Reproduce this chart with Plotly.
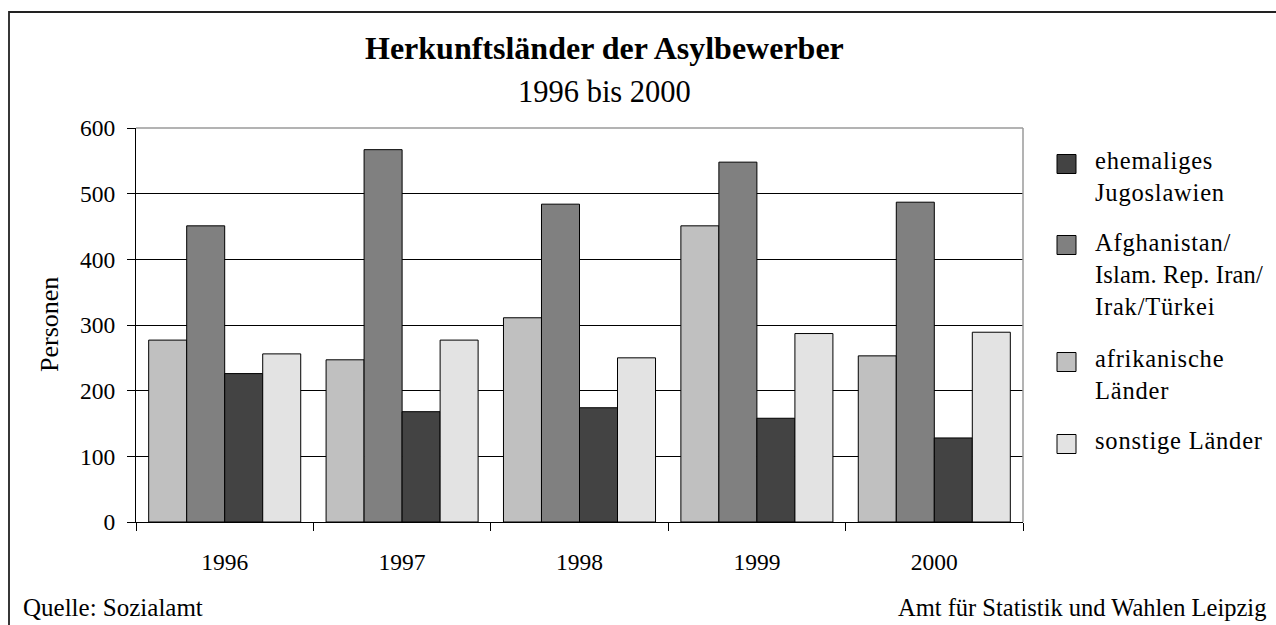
import plotly.graph_objects as go

years = ["1996", "1997", "1998", "1999", "2000"]
afrika = [277, 247, 311, 451, 253]
afghan = [451, 567, 484, 548, 487]
jugo = [226, 168, 174, 158, 128]
sonst = [256, 277, 250, 287, 289]

names = {
    "jugo": "ehemaliges<br>Jugoslawien",
    "afghan": "Afghanistan/<br>Islam. Rep. Iran/<br>Irak/Türkei",
    "afrika": "afrikanische<br>Länder",
    "sonst": "sonstige Länder",
}
colors = {"afrika": "#C0C0C0", "afghan": "#808080", "jugo": "#434343", "sonst": "#E3E3E3"}
y_ticks = [0, 100, 200, 300, 400, 500, 600]

W, H = 1276, 625
L, R, T, B = 136, 1023, 128, 522
PW, PH = R - L, B - T


def px(x):
    return (x - L) / PW


def py(y):
    return (B - y) / PH


FONT = "Liberation Serif, Times New Roman, serif"

fig = go.Figure()
for key, vals in [("afrika", afrika), ("afghan", afghan), ("jugo", jugo), ("sonst", sonst)]:
    fig.add_trace(go.Bar(
        x=years, y=vals, name=names[key].replace("<br>", " "),
        marker=dict(color=colors[key], line=dict(color="black", width=1)),
        showlegend=False,
    ))

shapes = []
annotations = []

# plot area border top/right (gray)
shapes.append(dict(type="line", xref="paper", yref="paper", x0=0, x1=1, y0=1, y1=1,
                   line=dict(color="#9a9a9a", width=1.5), layer="above"))
shapes.append(dict(type="line", xref="paper", yref="paper", x0=1, x1=1, y0=0, y1=1,
                   line=dict(color="#9a9a9a", width=1.5), layer="above"))
# outer frame
shapes.append(dict(type="rect", xref="paper", yref="paper",
                   x0=px(9), x1=px(1300), y0=py(12), y1=py(650),
                   line=dict(color="#222222", width=1.8), fillcolor="rgba(0,0,0,0)", layer="above"))


def spaced(t):
    out = []
    for s in t.split("<br>"):
        ls = 0.2 if s.startswith("Islam") else 0.8
        out.append('<span style="letter-spacing:%spx">%s</span>' % (ls, s))
    return "<br>".join(out)


# manual legend
legend_items = [
    ("jugo", [160, 193]),
    ("afghan", [241, 274, 307]),
    ("afrika", [358, 391]),
    ("sonst", [440]),
]
for key, lines in legend_items:
    sq_c = lines[0] + 4
    shapes.append(dict(type="rect", xref="paper", yref="paper",
                       x0=px(1057), x1=px(1076), y0=py(sq_c - 9.5), y1=py(sq_c + 9.5),
                       line=dict(color="black", width=1), fillcolor=colors[key]))
    annotations.append(dict(
        x=px(1093), y=py((lines[0] + lines[-1]) / 2), xref="paper", yref="paper",
        text=spaced(names[key]), showarrow=False, xanchor="left", yanchor="middle", align="left",
        font=dict(family=FONT, size=24.5, color="black"),
    ))

# titles
annotations.append(dict(x=px(604), y=py(48), xref="paper", yref="paper",
                        text="<b>Herkunftsländer der Asylbewerber</b>", showarrow=False,
                        xanchor="center", yanchor="middle",
                        font=dict(family=FONT, size=32, color="black")))
annotations.append(dict(x=px(604), y=py(92), xref="paper", yref="paper",
                        text="1996 bis 2000", showarrow=False,
                        xanchor="center", yanchor="middle",
                        font=dict(family=FONT, size=30.5, color="black")))
# y axis title
annotations.append(dict(x=px(49), y=py(325), xref="paper", yref="paper",
                        text="Personen", showarrow=False, textangle=-90,
                        xanchor="center", yanchor="middle",
                        font=dict(family=FONT, size=26, color="black")))
# footers
annotations.append(dict(x=px(21), y=py(607), xref="paper", yref="paper",
                        text="Quelle: Sozialamt", showarrow=False,
                        xanchor="left", yanchor="middle",
                        font=dict(family=FONT, size=25, color="black")))
annotations.append(dict(x=px(1268), y=py(607), xref="paper", yref="paper",
                        text="Amt für Statistik und Wahlen Leipzig", showarrow=False,
                        xanchor="right", yanchor="middle",
                        font=dict(family=FONT, size=24.5, color="black")))

fig.update_layout(
    width=W, height=H,
    margin=dict(l=L, r=W - R, t=T, b=H - B, pad=0),
    paper_bgcolor="white", plot_bgcolor="white",
    barmode="group", bargap=0.143, bargroupgap=0,
    font=dict(family=FONT, color="black"),
    shapes=shapes, annotations=annotations,
    showlegend=False,
)
fig.update_xaxes(
    type="category", showline=True, linecolor="black", linewidth=1.2,
    ticks="outside", ticklen=8, tickcolor="black", tickson="boundaries",
    tickfont=dict(family=FONT, size=23.5, color="black"),
    ticklabelstandoff=19, showgrid=False, zeroline=False,
)
fig.update_yaxes(
    range=[0, 600], tickvals=y_ticks, ticktext=[str(v) for v in y_ticks],
    showline=True, linecolor="black", linewidth=1.2,
    ticks="outside", ticklen=8, tickcolor="black",
    tickfont=dict(family=FONT, size=23.5, color="black"),
    ticklabelstandoff=7,
    showgrid=True, gridcolor="black", gridwidth=1, zeroline=False,
)

fig.write_html(
    "out.html",
    config={"displayModeBar": False},
    post_script="document.body.style.margin='0';document.body.style.overflow='hidden';",
)
